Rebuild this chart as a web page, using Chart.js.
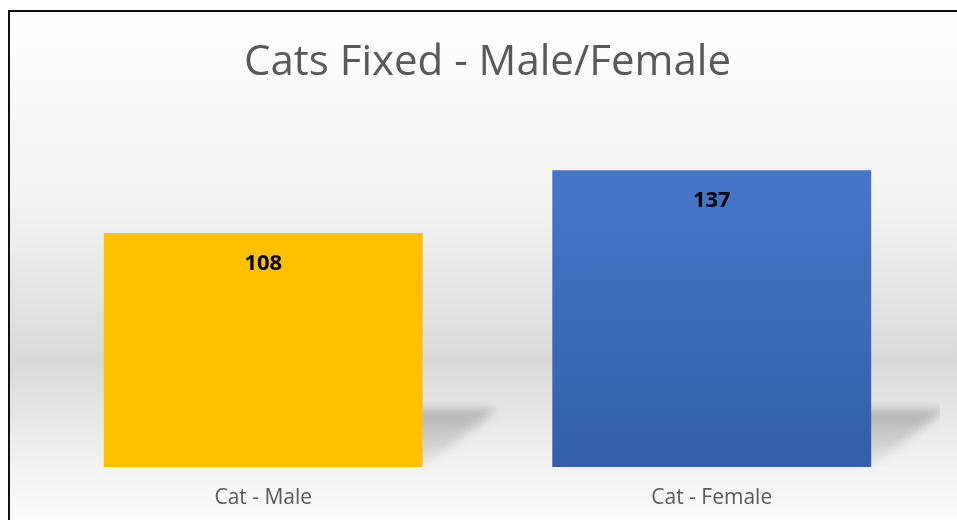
<!DOCTYPE html>
<html>
<head>
<meta charset="utf-8">
<script src="https://cdn.jsdelivr.net/npm/chart.js@4"></script>
<style>
  html, body { margin: 0; padding: 0; background: #fff; }
  #wrap { width: 957px; height: 520px; }
</style>
</head>
<body>
<div id="wrap"><canvas id="chart" width="957" height="520"></canvas></div>
<script>
// data
const categories = ["Cat - Male", "Cat - Female"];
const fixedCounts = [108, 137];
const axisMin = 0;
const axisMax = 160;

// page background + frame line
const backgroundPlugin = {
    id: "bgFrame",
    beforeDraw(chart) {
        const ctx = chart.ctx;
        const W = chart.width, H = chart.height;
        ctx.save();
        ctx.fillStyle = "#ffffff";
        ctx.fillRect(0, 0, W, H);
        const g = ctx.createLinearGradient(0, 11, 0, H);
        g.addColorStop(0, "#ffffff");
        g.addColorStop(0.4, "#f1f1f1");
        g.addColorStop(0.69, "#d9d9d9");
        g.addColorStop(0.9, "#f3f3f3");
        g.addColorStop(1, "#fbfbfb");
        ctx.fillStyle = g;
        ctx.fillRect(10, 11, W - 10, H - 11);
        ctx.strokeStyle = "#111";
        ctx.lineWidth = 2;
        ctx.beginPath();
        ctx.moveTo(9, H);
        ctx.lineTo(9, 11);
        ctx.lineTo(W, 11);
        ctx.stroke();
        ctx.restore();
    }
};

// soft perspective shadow behind each bar
const shadowPlugin = {
    id: "barShadow",
    beforeDatasetsDraw(chart) {
        const ctx = chart.ctx;
        const area = chart.chartArea;
        const meta = chart.getDatasetMeta(0);
        ctx.save();
        ctx.beginPath();
        ctx.rect(area.left, area.top, area.right - area.left + 4, area.bottom - area.top);
        ctx.clip();
        ctx.filter = "blur(5px)";
        meta.data.forEach(bar => {
            const x0 = bar.x - bar.width / 2;
            const x1 = bar.x + bar.width / 2;
            const b = bar.base;
            const dx = 74, dy = 58;
            const g = ctx.createLinearGradient(0, b - dy, 0, b);
            g.addColorStop(0, "rgba(0,0,0,0.22)");
            g.addColorStop(1, "rgba(0,0,0,0.04)");
            ctx.fillStyle = g;
            ctx.beginPath();
            ctx.moveTo(x0, b);
            ctx.lineTo(x1, b);
            ctx.lineTo(x1 + dx, b - dy);
            ctx.lineTo(x0 + dx, b - dy);
            ctx.closePath();
            ctx.fill();
        });
        ctx.restore();
    }
};

// value labels inside the bars, near the top
const valueLabelPlugin = {
    id: "valueLabels",
    afterDatasetsDraw(chart) {
        const ctx = chart.ctx;
        const meta = chart.getDatasetMeta(0);
        ctx.save();
        ctx.font = "bold 22px 'Open Sans'";
        ctx.fillStyle = "#000";
        ctx.textAlign = "center";
        ctx.textBaseline = "middle";
        meta.data.forEach((bar, i) => {
            ctx.fillText(String(chart.data.datasets[0].data[i]), bar.x, bar.y + 31);
        });
        ctx.restore();
    }
};

function barFill(context) {
    if (context.dataIndex === 0) return "#FFC000";
    const chart = context.chart;
    const area = chart.chartArea;
    if (!area) return "#4472C4";
    const g = chart.ctx.createLinearGradient(0, area.top, 0, area.bottom);
    g.addColorStop(0, "#4a7ad0");
    g.addColorStop(1, "#3260ab");
    return g;
}

new Chart(document.getElementById("chart"), {
    type: "bar",
    data: {
        labels: categories,
        datasets: [{
            label: "Cats Fixed",
            data: fixedCounts,
            backgroundColor: barFill,
            borderWidth: 0,
            categoryPercentage: 1,
            barPercentage: 0.711
        }]
    },
    options: {
        responsive: false,
        animation: false,
        layout: { padding: { left: 39, right: 21, top: 38, bottom: 0 } },
        plugins: {
            legend: { display: false },
            tooltip: { enabled: false },
            title: {
                display: true,
                text: "Cats Fixed - Male/Female",
                color: "#595959",
                font: { family: "'Open Sans'", size: 42, weight: "normal", lineHeight: 1.2 },
                padding: { top: 0, bottom: 32 }
            }
        },
        scales: {
            x: {
                grid: { display: false, drawTicks: false },
                border: { display: false },
                ticks: {
                    color: "#595959",
                    padding: 18,
                    font: { family: "'Open Sans'", size: 21, lineHeight: 1.2 }
                },
                afterFit(scale) { scale.height = 53; }
            },
            y: {
                display: false,
                min: axisMin,
                max: axisMax
            }
        }
    },
    plugins: [backgroundPlugin, shadowPlugin, valueLabelPlugin]
});
</script>
</body>
</html>
